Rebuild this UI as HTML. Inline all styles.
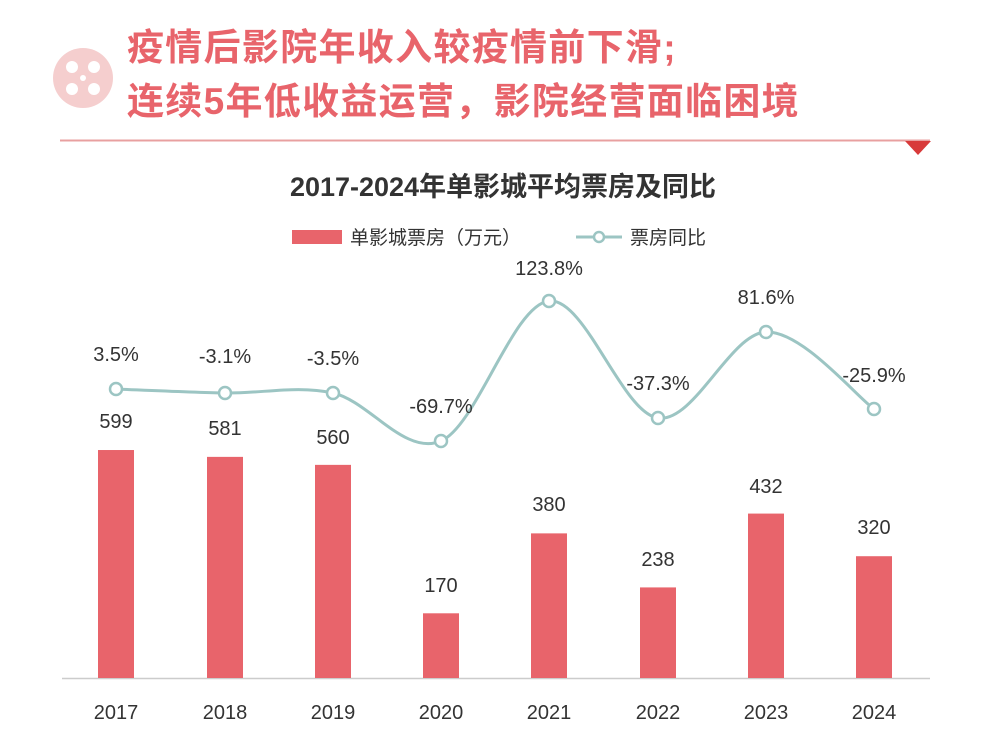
<!DOCTYPE html>
<html><head><meta charset="utf-8"><style>
body{margin:0;background:#fff;width:1006px;height:738px;overflow:hidden;font-family:"Liberation Sans","Noto Sans CJK SC",sans-serif}
</style></head><body>
<svg id="s" width="1006" height="738" viewBox="0 0 1006 738" xmlns="http://www.w3.org/2000/svg" font-family="Liberation Sans, Noto Sans CJK SC, sans-serif">
<circle cx="83" cy="78" r="30" fill="#f5cece"/>
<circle cx="72" cy="67" r="6" fill="#fff"/><circle cx="94" cy="67" r="6" fill="#fff"/>
<circle cx="72" cy="89" r="6" fill="#fff"/><circle cx="94" cy="89" r="6" fill="#fff"/>
<circle cx="83" cy="78" r="3" fill="#fff"/>
<text x="127" y="60" font-size="37" font-weight="bold" fill="#e8646b" letter-spacing="1.3">疫情后影院年收入较疫情前下滑;</text>
<text x="127" y="114" font-size="37" font-weight="bold" fill="#e8646b" letter-spacing="1.3">连续5年低收益运营，影院经营面临困境</text>
<line x1="60" y1="140.5" x2="930" y2="140.5" stroke="#e8a0a0" stroke-width="2"/>
<polygon points="905,141 931,141 918,155" fill="#d83a3a"/>
<text x="503" y="196" font-size="27" font-weight="bold" fill="#333" text-anchor="middle">2017-2024年单影城平均票房及同比</text>
<rect x="292" y="230" width="50" height="14" fill="#e8646b"/>
<text x="350" y="244" font-size="19" fill="#333">单影城票房（万元）</text>
<line x1="576" y1="237" x2="622" y2="237" stroke="#9cc5c3" stroke-width="3"/>
<circle cx="599" cy="237" r="5" fill="#fff" stroke="#9cc5c3" stroke-width="2.5"/>
<text x="630" y="244" font-size="19" fill="#333">票房同比</text>
<line x1="62" y1="678.5" x2="930" y2="678.5" stroke="#ccc" stroke-width="1.5"/>
<g id="g"></g>
</svg>
<script>
var xs=[116,225,333,441,549,658,766,874],v=[599,581,560,170,380,238,432,320],
yrs=[2017,2018,2019,2020,2021,2022,2023,2024],
py=[389,393,393,441,301,418,332,409],pl=["3.5%","-3.1%","-3.5%","-69.7%","123.8%","-37.3%","81.6%","-25.9%"],
ply=[361,363,365,413,275,390,304,382],bly=[428,435,444,592,511,566,493,534];
var h='';
for(var i=0;i<8;i++){var t=678-v[i]*0.3806;
h+='<rect x="'+(xs[i]-18)+'" y="'+t+'" width="36" height="'+(678-t)+'" fill="#e8646b"/>';
h+='<text x="'+xs[i]+'" y="'+bly[i]+'" font-size="20" fill="#333" text-anchor="middle">'+v[i]+'</text>';
h+='<text x="'+xs[i]+'" y="719" font-size="20" fill="#333" text-anchor="middle">'+yrs[i]+'</text>';}
var d='M'+xs[0]+','+py[0];
for(var i=0;i<7;i++){var p0=i?i-1:0,p3=i+2<8?i+2:7;
var c1x=xs[i]+(xs[i+1]-xs[p0])/6,c1y=py[i]+(py[i+1]-py[p0])/6,c2x=xs[i+1]-(xs[p3]-xs[i])/6,c2y=py[i+1]-(py[p3]-py[i])/6;
d+=' C'+c1x+','+c1y+' '+c2x+','+c2y+' '+xs[i+1]+','+py[i+1];}
h+='<path d="'+d+'" fill="none" stroke="#9cc5c3" stroke-width="3"/>';
for(var i=0;i<8;i++){h+='<circle cx="'+xs[i]+'" cy="'+py[i]+'" r="6" fill="#fff" stroke="#9cc5c3" stroke-width="2.5"/>';
h+='<text x="'+xs[i]+'" y="'+ply[i]+'" font-size="20" fill="#333" text-anchor="middle">'+pl[i]+'</text>';}
document.getElementById('g').innerHTML=h;
</script>
</body></html>
